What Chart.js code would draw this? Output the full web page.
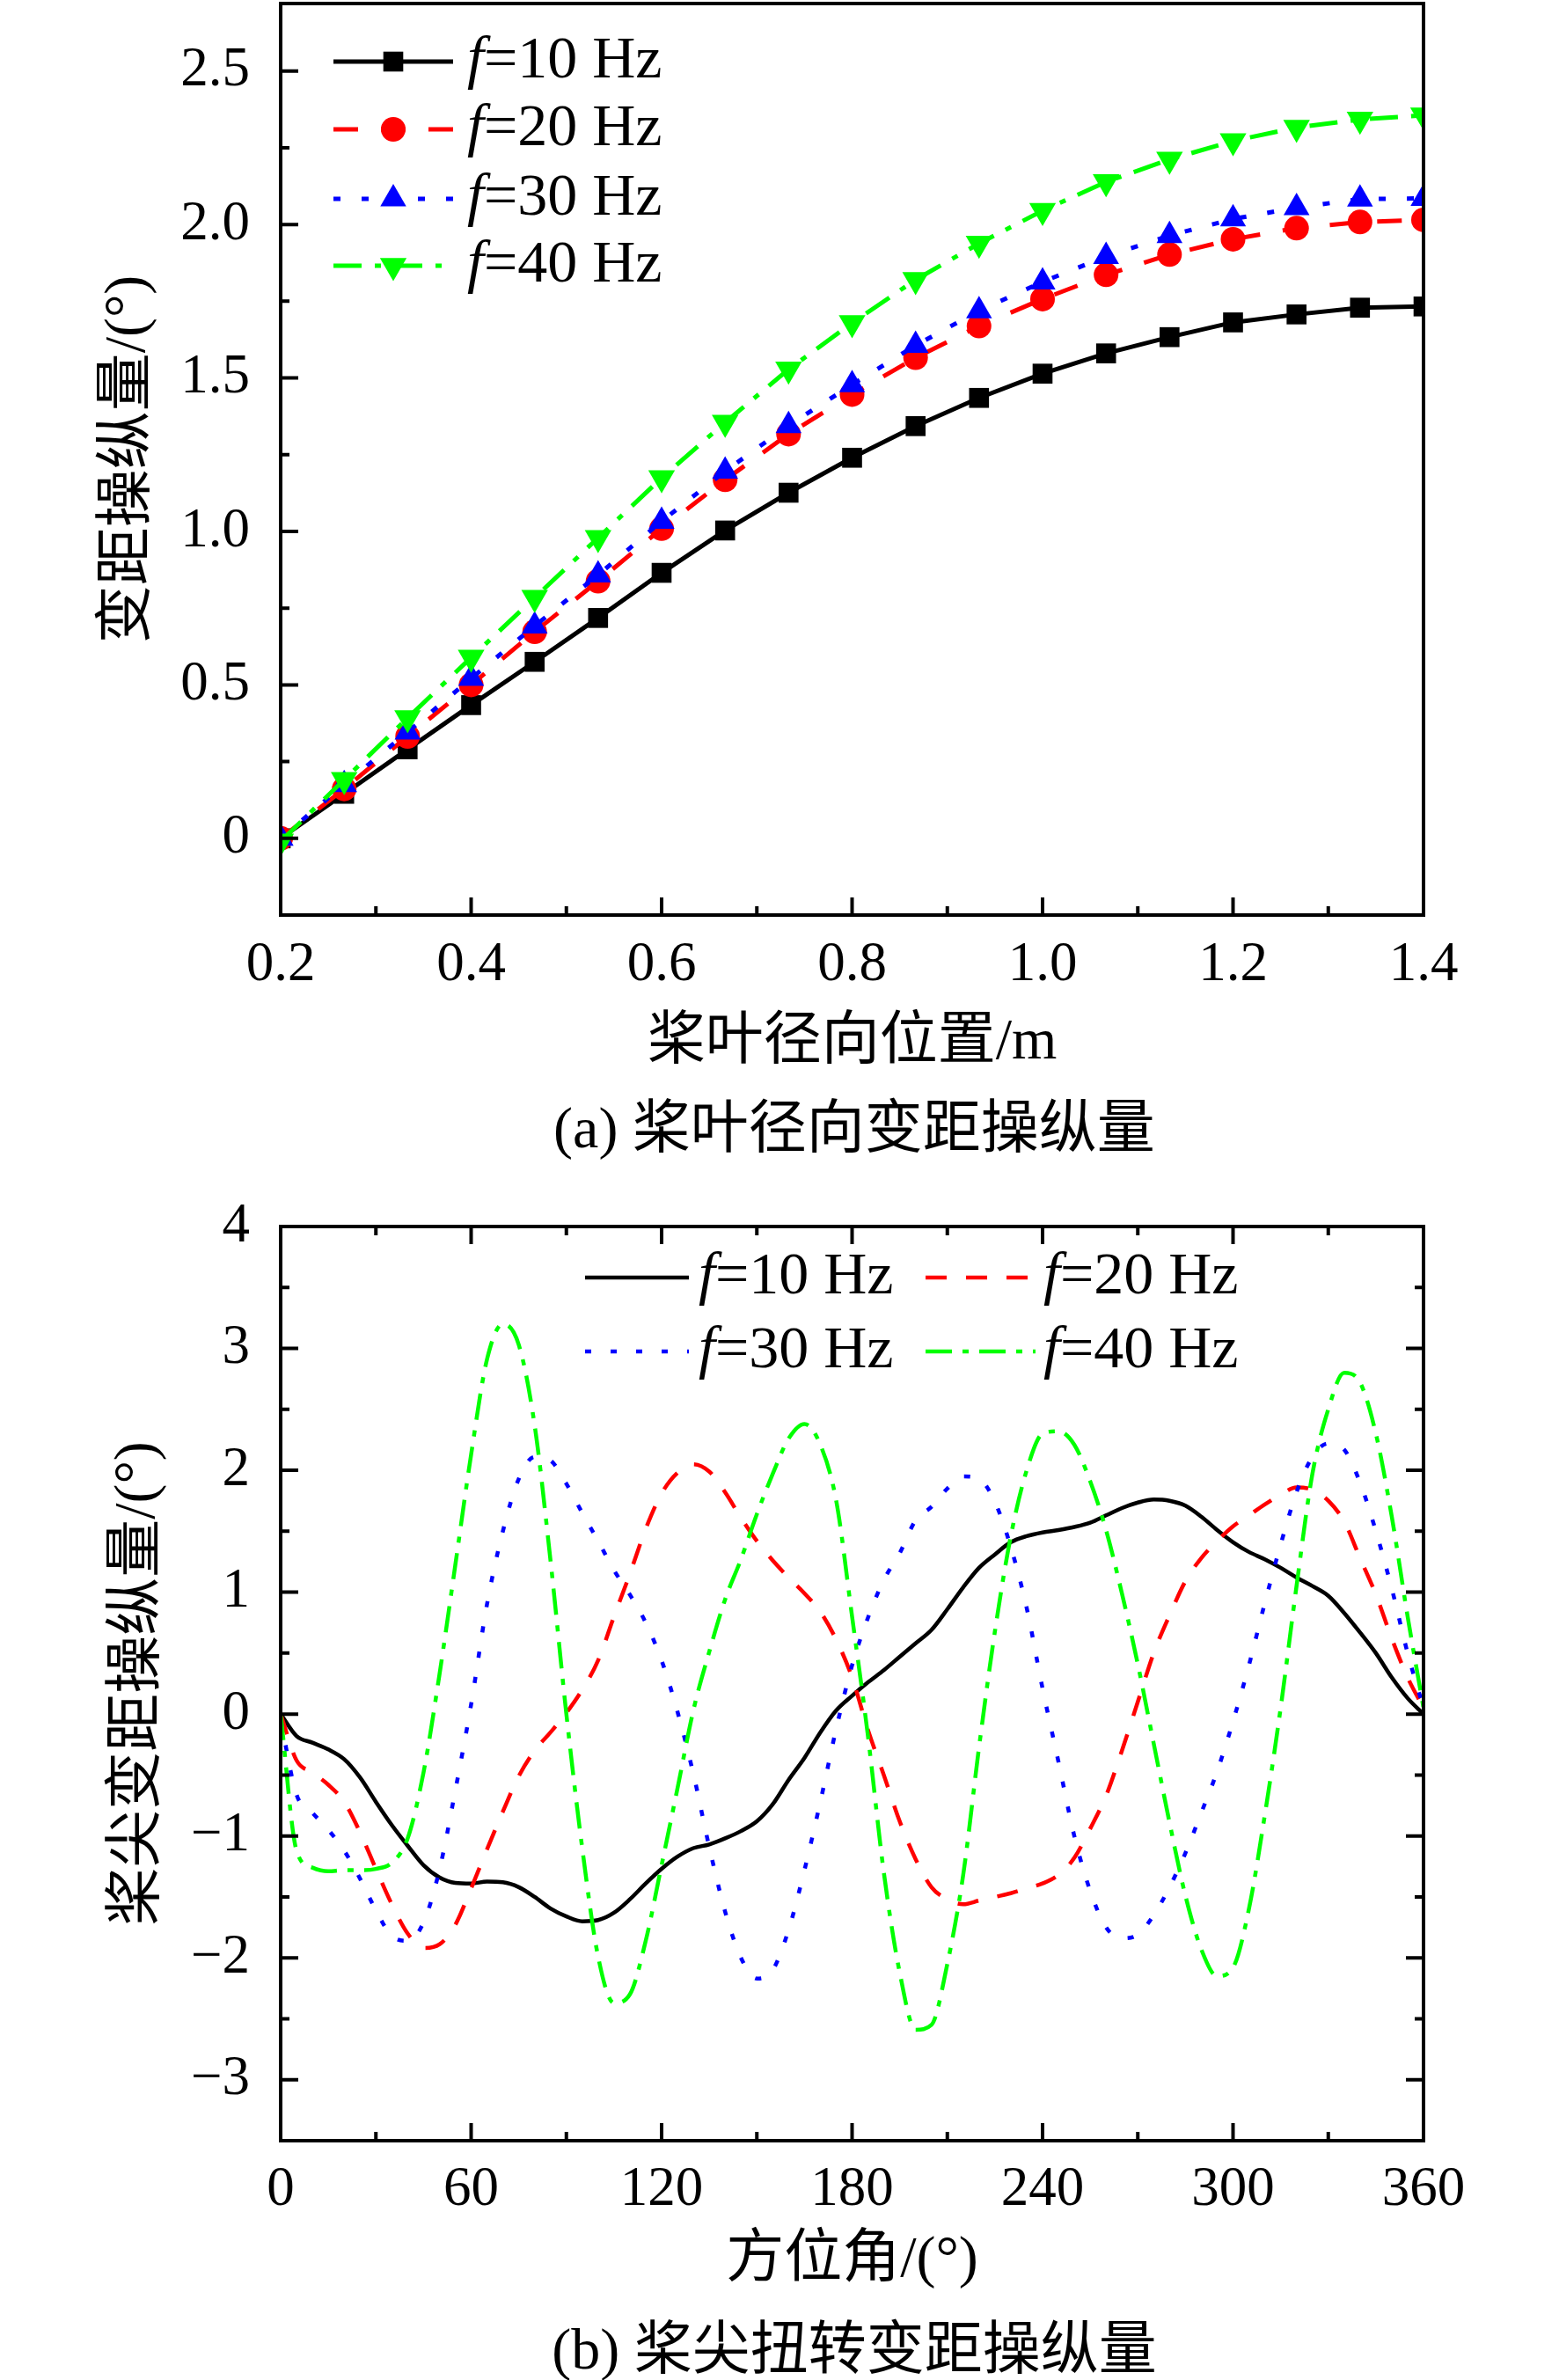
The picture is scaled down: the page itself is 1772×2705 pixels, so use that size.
<!DOCTYPE html>
<html>
<head>
<meta charset="utf-8">
<script src="https://cdn.jsdelivr.net/npm/chart.js@4.4.1/dist/chart.umd.min.js"></script>
<style>
  body { margin: 0; background: #fff; width: 1772px; height: 2705px; position: relative; overflow: hidden; }
  canvas { position: absolute; left: 0; }
  #chartA { top: 0; }
  #chartB { top: 1340px; }
  .caption {
    position: absolute; left: 971px; transform: translateX(-50%);
    font: 66px "Liberation Serif", "Noto Sans CJK SC", serif;
    line-height: 80px; white-space: nowrap; color: #000;
  }
</style>
</head>
<body>
<canvas id="chartA" width="1772" height="1240"></canvas>
<div class="caption" style="top:1242px">(a) 桨叶径向变距操纵量</div>
<canvas id="chartB" width="1772" height="1280"></canvas>
<div class="caption" style="top:2630px">(b) 桨尖扭转变距操纵量</div>
<script>
// ---- (a) pitch along the blade radius ----
var radialPos = [0.2, 0.2667, 0.3333, 0.4, 0.4667, 0.5333, 0.6, 0.6667, 0.7333, 0.8,
                 0.8667, 0.9333, 1.0, 1.0667, 1.1333, 1.2, 1.2667, 1.3333, 1.4];
var pitchF10 = [0, 0.145, 0.29, 0.434, 0.575, 0.718, 0.865, 1.003, 1.126, 1.24,
                1.343, 1.435, 1.514, 1.58, 1.633, 1.681, 1.707, 1.729, 1.733];
var pitchF20 = [0, 0.161, 0.332, 0.50, 0.673, 0.838, 1.009, 1.168, 1.317, 1.446,
                1.566, 1.669, 1.757, 1.836, 1.902, 1.952, 1.988, 2.008, 2.015];
var pitchF30 = [0, 0.175, 0.346, 0.521, 0.692, 0.858, 1.033, 1.196, 1.345, 1.478,
                1.606, 1.719, 1.813, 1.896, 1.964, 2.018, 2.055, 2.083, 2.085];
var pitchF40 = [-0.01, 0.191, 0.392, 0.589, 0.784, 0.979, 1.174, 1.355, 1.528, 1.679,
                1.82, 1.938, 2.045, 2.139, 2.212, 2.272, 2.316, 2.342, 2.356];
var xTicksA = [0.2, 0.4, 0.6, 0.8, 1.0, 1.2, 1.4];
var yTicksA = [0, 0.5, 1.0, 1.5, 2.0, 2.5];

// ---- (b) tip pitch vs azimuth ----
var azimuth = [0, 5, 10, 15, 20, 25, 30, 35, 40, 45, 50, 55, 60, 65, 70, 75, 80, 85, 90,
               95, 100, 105, 110, 115, 120, 125, 130, 135, 140, 145, 150, 155, 160, 165, 170, 175, 180,
               185, 190, 195, 200, 205, 210, 215, 220, 225, 230, 235, 240, 245, 250, 255, 260, 265, 270,
               275, 280, 285, 290, 295, 300, 305, 310, 315, 320, 325, 330, 335, 340, 345, 350, 355, 360];
var tipF10 = [0, -0.18, -0.235, -0.29, -0.37, -0.52, -0.72, -0.91, -1.08, -1.24, -1.34, -1.385, -1.39,
              -1.375, -1.38, -1.42, -1.5, -1.595, -1.66, -1.7, -1.69, -1.63, -1.52, -1.39, -1.27,
              -1.17, -1.1, -1.07, -1.02, -0.96, -0.88, -0.74, -0.54, -0.36, -0.15, 0.03, 0.15,
              0.26, 0.36, 0.47, 0.58, 0.69, 0.86, 1.04, 1.2, 1.31, 1.41, 1.46, 1.49,
              1.51, 1.535, 1.57, 1.63, 1.69, 1.735, 1.76, 1.75, 1.71, 1.62, 1.51, 1.41,
              1.33, 1.27, 1.2, 1.12, 1.05, 0.97, 0.83, 0.67, 0.5, 0.3, 0.13, 0];
var tipF20 = [0, -0.38, -0.48, -0.58, -0.72, -0.97, -1.27, -1.56, -1.8, -1.92, -1.89, -1.73, -1.43,
              -1.11, -0.8, -0.51, -0.3, -0.15, 0.01, 0.2, 0.44, 0.8, 1.15, 1.52, 1.81,
              1.98, 2.05, 1.99, 1.82, 1.61, 1.42, 1.26, 1.12, 0.99, 0.84, 0.61, 0.3,
              -0.13, -0.5, -0.88, -1.19, -1.42, -1.52, -1.56, -1.53, -1.5, -1.47, -1.43, -1.39,
              -1.32, -1.18, -0.94, -0.67, -0.3, 0.1, 0.5, 0.81, 1.09, 1.28, 1.42, 1.54,
              1.63, 1.72, 1.8, 1.86, 1.84, 1.75, 1.58, 1.28, 0.98, 0.62, 0.3, 0.05];
var tipF30 = [-0.05, -0.66, -0.81, -0.95, -1.12, -1.35, -1.61, -1.82, -1.86, -1.71, -1.28, -0.63, 0.08,
              0.9, 1.5, 1.93, 2.11, 2.08, 1.89, 1.65, 1.42, 1.18, 0.98, 0.75, 0.44,
              0.02, -0.49, -1.09, -1.62, -2.0, -2.17, -2.1, -1.77, -1.28, -0.72, -0.12, 0.4,
              0.79, 1.1, 1.32, 1.59, 1.7, 1.85, 1.95, 1.93, 1.74, 1.37, 0.87, 0.21,
              -0.39, -1.0, -1.45, -1.75, -1.84, -1.81, -1.65, -1.42, -1.14, -0.81, -0.47, -0.06,
              0.4, 0.91, 1.39, 1.82, 2.11, 2.22, 2.17, 1.9, 1.5, 1.03, 0.5, 0.05];
var tipF40 = [0, -1.12, -1.26, -1.29, -1.28, -1.28, -1.27, -1.22, -1.02, -0.48, 0.32, 1.22, 2.13,
              2.91, 3.2, 3.03, 2.37, 1.26, 0.0, -1.1, -1.99, -2.37, -2.3, -1.86, -1.24,
              -0.61, 0.03, 0.51, 0.94, 1.27, 1.64, 1.97, 2.26, 2.38, 2.21, 1.75, 0.8,
              -0.18, -1.3, -2.12, -2.59, -2.55, -2.05, -1.32, -0.27, 0.68, 1.46, 2.0, 2.3,
              2.32, 2.21, 1.91, 1.51, 0.99, 0.41, -0.24, -0.89, -1.49, -1.93, -2.15, -2.08,
              -1.6, -0.83, 0.05, 1.05, 1.97, 2.5, 2.8, 2.72, 2.3, 1.62, 0.8, 0.05];
var xTicksB = [0, 60, 120, 180, 240, 300, 360];
var yTicksB = [-3, -2, -1, 0, 1, 2, 3, 4];

var seriesNames = ['f=10 Hz', 'f=20 Hz', 'f=30 Hz', 'f=40 Hz'];
var seriesColors = ['#000000', '#ff0000', '#0000ff', '#00ff00'];

var SERIF = '"Liberation Serif", "Times New Roman", serif';
var MIXED = '"Liberation Serif", "Noto Sans CJK SC", serif';

function pts(xs, ys) {
    return xs.map(function (x, i) { return { x: x, y: ys[i] }; });
}

// fix axis box size and drop the edge-label padding so the plot area lands where we want it
function fixBox(size) {
    return function (scale) {
        if (scale.isHorizontal()) {
            scale.height = size;
        } else {
            scale.width = size;
        }
        scale.paddingTop = scale.paddingBottom = scale.paddingLeft = scale.paddingRight = 0;
    };
}

function useTicks(values) {
    return function (scale) {
        scale.ticks = values.map(function (v) { return { value: v }; });
    };
}

// closed frame plus inward major/minor tick marks
var frameTicks = {
    id: 'frameTicks',
    afterDatasetsDraw: function (chart, args, opts) {
        var ctx = chart.ctx, a = chart.chartArea;
        ctx.save();
        ctx.strokeStyle = '#000';
        ctx.lineWidth = 4;
        ctx.setLineDash([]);
        ctx.beginPath();
        ['x', 'y'].forEach(function (id) {
            var sc = chart.scales[id];
            var vals = sc.ticks.map(function (t) { return t.value; });
            var step = vals[1] - vals[0];
            var minors = [vals[0] - step / 2];
            vals.forEach(function (v) { minors.push(v + step / 2); });
            minors = minors.filter(function (v) { return v > sc.min + 1e-9 && v < sc.max - 1e-9; });
            var marks = vals.map(function (v) { return [v, 20]; })
                .concat(minors.map(function (v) { return [v, 10]; }));
            marks.forEach(function (m) {
                var p = sc.getPixelForValue(m[0]);
                var len = m[1];
                if (id === 'x') {
                    if (opts.sides.indexOf('bottom') >= 0) { ctx.moveTo(p, a.bottom); ctx.lineTo(p, a.bottom - len); }
                    if (opts.sides.indexOf('top') >= 0) { ctx.moveTo(p, a.top); ctx.lineTo(p, a.top + len); }
                } else {
                    if (opts.sides.indexOf('left') >= 0) { ctx.moveTo(a.left, p); ctx.lineTo(a.left + len, p); }
                    if (opts.sides.indexOf('right') >= 0) { ctx.moveTo(a.right, p); ctx.lineTo(a.right - len, p); }
                }
            });
        });
        ctx.stroke();
        ctx.strokeRect(a.left, a.top, a.right - a.left, a.bottom - a.top);
        ctx.restore();
    }
};

function drawMarker(ctx, style, r, rot, x, y) {
    ctx.beginPath();
    if (style === 'rect') {
        var s = r * Math.SQRT1_2;
        ctx.rect(x - s, y - s, 2 * s, 2 * s);
    } else if (style === 'circle') {
        ctx.arc(x, y, r, 0, Math.PI * 2);
    } else if (style === 'triangle') {
        var ang = (rot || 0) * Math.PI / 180;
        for (var k = 0; k < 3; k++) {
            var t = ang + k * 2 * Math.PI / 3;
            var px = x + Math.sin(t) * r, py = y - Math.cos(t) * r;
            if (k === 0) ctx.moveTo(px, py); else ctx.lineTo(px, py);
        }
        ctx.closePath();
    }
    ctx.fill();
}

// legend drawn inside the plot, one entry per dataset
var inlineLegend = {
    id: 'inlineLegend',
    afterDraw: function (chart, args, opts) {
        var ctx = chart.ctx;
        ctx.save();
        chart.data.datasets.forEach(function (ds, i) {
            var e = opts.entries[i];
            ctx.strokeStyle = ds.borderColor;
            ctx.fillStyle = ds.borderColor;
            ctx.lineWidth = ds.borderWidth;
            ctx.setLineDash(ds.borderDash || []);
            ctx.beginPath();
            ctx.moveTo(e.x1, e.y);
            ctx.lineTo(e.x2, e.y);
            ctx.stroke();
            ctx.setLineDash([]);
            if (ds.pointRadius > 0) {
                drawMarker(ctx, ds.pointStyle, ds.pointRadius, ds.pointRotation, (e.x1 + e.x2) / 2, e.y);
            }
            ctx.fillStyle = '#000';
            ctx.textBaseline = 'middle';
            ctx.textAlign = 'left';
            ctx.font = 'italic ' + opts.size + 'px ' + SERIF;
            ctx.fillText(ds.label.charAt(0), e.tx, e.y);
            var w = ctx.measureText(ds.label.charAt(0)).width;
            ctx.font = opts.size + 'px ' + SERIF;
            ctx.fillText(ds.label.slice(1), e.tx + w, e.y);
        });
        ctx.restore();
    }
};

function axisFont(size) { return { family: SERIF, size: size }; }

// ---- chart (a) ----
var pitchSeries = [pitchF10, pitchF20, pitchF30, pitchF40];
var markerStyles = ['rect', 'circle', 'triangle', 'triangle'];
var markerRadius = [16, 14, 17, 17.5];
var markerRotation = [0, 0, 0, 180];
var dashA = [[], [28, 26], [8, 24], [32, 15, 7, 15]];

new Chart(document.getElementById('chartA').getContext('2d'), {
    type: 'line',
    data: {
        datasets: pitchSeries.map(function (ys, i) {
            return {
                label: seriesNames[i],
                data: pts(radialPos, ys),
                borderColor: seriesColors[i],
                backgroundColor: seriesColors[i],
                borderWidth: 5,
                borderDash: dashA[i],
                tension: 0,
                pointStyle: markerStyles[i],
                pointRadius: markerRadius[i],
                pointRotation: markerRotation[i],
                pointBorderWidth: 0,
                pointBackgroundColor: seriesColors[i],
                order: 4 - i
            };
        })
    },
    options: {
        responsive: false,
        animation: false,
        devicePixelRatio: 1,
        layout: { autoPadding: false, padding: { top: 4, right: 154, bottom: 0, left: 0 } },
        plugins: {
            legend: { display: false },
            tooltip: { enabled: false },
            frameTicks: { sides: ['left', 'bottom'] },
            inlineLegend: {
                size: 68,
                entries: [
                    { x1: 379, x2: 515, tx: 531, y: 70 },
                    { x1: 379, x2: 515, tx: 531, y: 147 },
                    { x1: 379, x2: 515, tx: 531, y: 226 },
                    { x1: 379, x2: 515, tx: 531, y: 302 }
                ]
            }
        },
        scales: {
            x: {
                type: 'linear', min: 0.2, max: 1.4,
                afterBuildTicks: useTicks(xTicksA),
                afterFit: fixBox(200),
                grid: { display: false },
                border: { display: false },
                ticks: {
                    autoSkip: false, maxRotation: 0, minRotation: 0, padding: 12,
                    color: '#000', font: axisFont(63),
                    callback: function (v) { return v.toFixed(1); }
                },
                title: {
                    display: true, text: '桨叶径向位置/m', color: '#000',
                    font: { family: MIXED, size: 66 }, padding: { top: 0, bottom: 15 }
                }
            },
            y: {
                min: -0.25, max: 2.72,
                afterBuildTicks: useTicks(yTicksA),
                afterFit: fixBox(319),
                grid: { display: false },
                border: { display: false },
                ticks: {
                    autoSkip: false, padding: 27,
                    color: '#000', font: axisFont(63),
                    callback: function (v) { return v === 0 ? '0' : v.toFixed(1); }
                },
                title: {
                    display: true, text: '变距操纵量/(°)', color: '#000',
                    font: { family: MIXED, size: 66 }, padding: { top: 107, bottom: 0 }
                }
            }
        }
    },
    plugins: [frameTicks, inlineLegend]
});

// ---- chart (b) ----
var tipSeries = [tipF10, tipF20, tipF30, tipF40];
var dashB = [[], [24, 22], [7, 22], [30, 12, 7, 12]];

new Chart(document.getElementById('chartB').getContext('2d'), {
    type: 'line',
    data: {
        datasets: tipSeries.map(function (ys, i) {
            return {
                label: seriesNames[i],
                data: pts(azimuth, ys),
                borderColor: seriesColors[i],
                backgroundColor: seriesColors[i],
                borderWidth: 4.5,
                borderDash: dashB[i],
                cubicInterpolationMode: 'monotone',
                pointRadius: 0,
                order: 4 - i
            };
        })
    },
    options: {
        responsive: false,
        animation: false,
        devicePixelRatio: 1,
        layout: { autoPadding: false, padding: { top: 54, right: 154, bottom: 0, left: 0 } },
        plugins: {
            legend: { display: false },
            tooltip: { enabled: false },
            frameTicks: { sides: ['left', 'bottom', 'top', 'right'] },
            inlineLegend: {
                size: 68,
                entries: [
                    { x1: 665, x2: 783, tx: 794, y: 112 },
                    { x1: 1052, x2: 1177, tx: 1186, y: 112 },
                    { x1: 665, x2: 783, tx: 794, y: 196 },
                    { x1: 1052, x2: 1177, tx: 1186, y: 196 }
                ]
            }
        },
        scales: {
            x: {
                type: 'linear', min: 0, max: 360,
                afterBuildTicks: useTicks(xTicksB),
                afterFit: fixBox(187),
                grid: { display: false },
                border: { display: false },
                ticks: {
                    autoSkip: false, maxRotation: 0, minRotation: 0, padding: 11,
                    color: '#000', font: axisFont(63)
                },
                title: {
                    display: true, text: '方位角/(°)', color: '#000',
                    font: { family: MIXED, size: 66 }, padding: { top: 0, bottom: 11 }
                }
            },
            y: {
                min: -3.5, max: 4,
                afterBuildTicks: useTicks(yTicksB),
                afterFit: fixBox(319),
                grid: { display: false },
                border: { display: false },
                ticks: {
                    autoSkip: false, padding: 27,
                    color: '#000', font: axisFont(63),
                    callback: function (v) { return v < 0 ? '\u2212' + Math.abs(v) : String(v); }
                },
                title: {
                    display: true, text: '桨尖变距操纵量/(°)', color: '#000',
                    font: { family: MIXED, size: 66 }, padding: { top: 118, bottom: 0 }
                }
            }
        }
    },
    plugins: [frameTicks, inlineLegend]
});
</script>
</body>
</html>
